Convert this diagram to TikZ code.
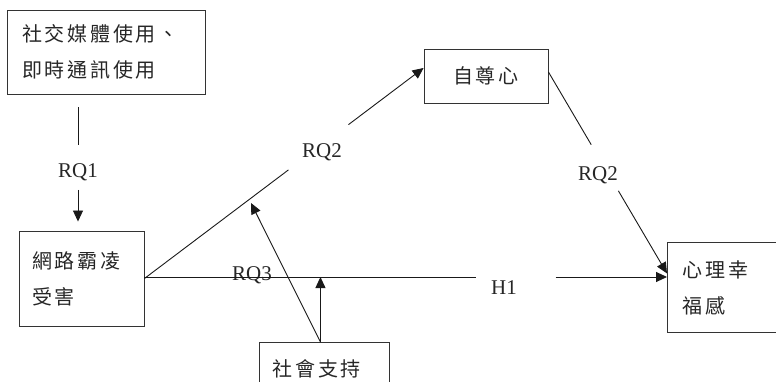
\documentclass[tikz,border=0pt]{standalone}
\usepackage{fontspec}
\setmainfont{Liberation Serif}
\newfontfamily\cjk[LetterSpace=14]{Noto Sans CJK TC}
\usetikzlibrary{arrows.meta,calc}
\begin{document}
\begin{tikzpicture}[x=1pt,y=-1pt,
  box/.style={draw=black!80, line width=0.9pt, inner ysep=0pt, align=left, font=\cjk\fontsize{20}{36}\selectfont, text=black!85},
  conn/.style={draw=black!90, line width=0.9pt},
  arr/.style={conn, -{Triangle[length=11pt,width=10pt]}},
  lab/.style={font=\fontsize{21}{24}\selectfont, inner sep=0pt, text=black!85}]
\useasboundingbox (0,0) rectangle (776,382);
% boxes
\node[box, minimum width=198pt, minimum height=84pt, text width=168pt, inner xsep=15pt] (b1) at (106,52) {社交媒體使用、\\即時通訊使用};
\node[box, minimum width=125pt, minimum height=95pt, text width=99pt, inner xsep=13pt] (b2) at (81.5,278.5) {網路霸凌\\受害};
\node[box, minimum width=124pt, minimum height=54pt, align=center] (b3) at (486,76) {自尊心};
\node[box, anchor=north west, minimum width=140pt, minimum height=90pt, text width=110pt, inner xsep=15pt] (b4) at (667,242) {心理幸\\福感};
\node[box, anchor=north west, minimum width=130pt, minimum height=52pt, text width=104pt, inner xsep=13pt] (b5) at (259,342) {社會支持};
% labels
\node[lab] (rq1) at (78,172) {RQ1};
\node[lab] (rq2a) at (322,152) {RQ2};
\node[lab] (rq2b) at (598,175) {RQ2};
\node[lab] (h1) at (504,288) {H1};
\node[lab] (rq3) at (252,275) {RQ3};
% RQ1
\draw[conn, shorten <=13pt, shorten >=27pt] (b1.south -| rq1) -- (rq1.center);
\draw[arr, shorten <=18pt, shorten >=9pt] (rq1.center) -- (b2.north -| rq1);
% RQ2 left
\coordinate (t3) at ($(b3.west)+(0,-8)$);
\draw[conn] (b2.east) -- ($(b2.east)!0.516!(t3)$);
\draw[arr] ($(b2.east)!0.731!(t3)$) -- (t3);
% RQ2 right
\coordinate (s3) at ($(b3.east)+(0,-4)$);
\coordinate (t4) at ($(b4.west)+(0,-14)$);
\draw[conn] (s3) -- ($(s3)!0.361!(t4)$);
\draw[arr] ($(s3)!0.59!(t4)$) -- (t4);
% H1
\coordinate (h1s) at ($(b2.east)+(0,-1.5)$);
\coordinate (h1e) at (b4.west |- h1s);
\draw[conn] (h1s) -- ($(h1s)!0.634!(h1e)$);
\draw[arr] ($(h1s)!0.787!(h1e)$) -- (h1e);
% moderation
\coordinate (s5) at ($(b5.north)+(-4,0)$);
\coordinate (m1) at (s5 |- h1s);
\coordinate (m2) at (251,203);
\draw[arr] (s5) -- (m1);
\draw[arr] (s5) -- (m2);
\end{tikzpicture}
\end{document}
